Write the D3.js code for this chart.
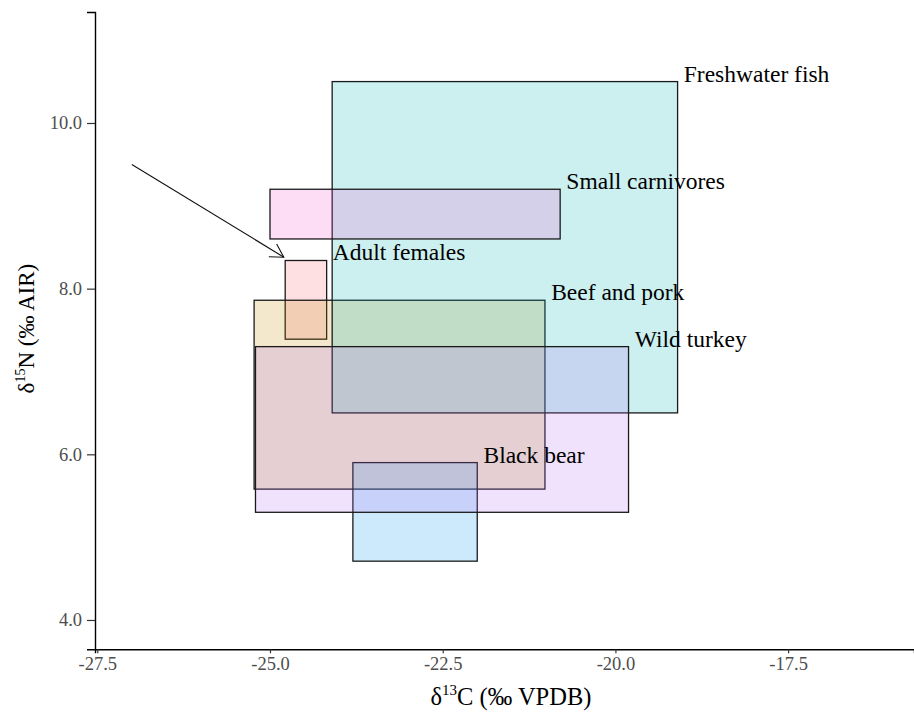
<!DOCTYPE html>
<html>
<head>
<meta charset="utf-8">
<script src="https://cdn.jsdelivr.net/npm/d3@7"></script>
<style>
  html, body { margin: 0; padding: 0; background: #fff; }
  svg { display: block; }
  text { font-family: "Liberation Serif", "Times New Roman", serif; }
</style>
</head>
<body>
<svg id="chart" width="914" height="712"></svg>
<script>
// Isotopic ranges (min/max) for each food source and for the adult females
const groups = ["Adult females", "Beef and pork", "Black bear", "Freshwater fish", "Small carnivores", "Wild turkey"];
const c13Min = [-24.78, -25.23, -23.80, -24.10, -25.00, -25.21];
const c13Max = [-24.18, -21.02, -22.00, -19.10, -20.80, -19.81];
const n15Min = [7.39, 5.58, 4.71, 6.50, 8.60, 5.30];
const n15Max = [8.34, 7.86, 5.90, 10.50, 9.20, 7.30];
const fills = ["#fa646e", "#c38c00", "#0096f0", "#00b4b4", "#f550cd", "#b46ef0"];

// Label anchors (upper right corner of each box, nudged right)
const labelNudge = 0.09;

// Arrow pointing at the adult female box
const arrowFrom = [-27.0, 9.5];
const arrowTo = [-24.8, 8.38];

const xTicks = [-27.5, -25.0, -22.5, -20.0, -17.5];
const yTicks = [4.0, 6.0, 8.0, 10.0];

const W = 914, H = 712;
const margin = { top: 12, right: 0, bottom: 62.7, left: 95 };

const svg = d3.select("#chart");

const x = d3.scaleLinear().domain([-27.533, -15.678]).range([margin.left, W - margin.right]);
const y = d3.scaleLinear().domain([3.646, 11.34]).range([H - margin.bottom, margin.top]);

const rows = groups.map((g, i) => ({
  name: g, x0: c13Min[i], x1: c13Max[i], y0: n15Min[i], y1: n15Max[i], fill: fills[i]
}));

// Boxes
svg.append("g").selectAll("rect").data(rows).join("rect")
  .attr("x", d => x(d.x0))
  .attr("y", d => y(d.y1))
  .attr("width", d => x(d.x1) - x(d.x0))
  .attr("height", d => y(d.y0) - y(d.y1))
  .attr("fill", d => d.fill)
  .attr("fill-opacity", 0.2)
  .attr("stroke", "#1a1a1a")
  .attr("stroke-width", 1.3);

// Box labels
svg.append("g").selectAll("text").data(rows).join("text")
  .attr("x", d => x(d.x1 + labelNudge))
  .attr("y", d => y(d.y1))
  .attr("font-size", 23.5)
  .attr("fill", "#000")
  .text(d => d.name);

// Arrow with open head
const ax0 = x(arrowFrom[0]), ay0 = y(arrowFrom[1]);
const ax1 = x(arrowTo[0]), ay1 = y(arrowTo[1]);
const ang = Math.atan2(ay1 - ay0, ax1 - ax0);
const headLen = 15, headAng = Math.PI / 6;
const arrow = svg.append("g").attr("stroke", "#111").attr("stroke-width", 1.1).attr("fill", "none");
arrow.append("line").attr("x1", ax0).attr("y1", ay0).attr("x2", ax1).attr("y2", ay1);
arrow.append("path").attr("d", d3.line()([
  [ax1 - headLen * Math.cos(ang - headAng), ay1 - headLen * Math.sin(ang - headAng)],
  [ax1, ay1],
  [ax1 - headLen * Math.cos(ang + headAng), ay1 - headLen * Math.sin(ang + headAng)]
]));

// Axes (plain hyphen for negative tick labels)
const fmt = d => d3.format(".1f")(d).replace("−", "-");
const xAxis = d3.axisBottom(x).tickValues(xTicks).tickFormat(fmt).tickSizeOuter(0).tickSize(4).tickPadding(4);
const yAxis = d3.axisLeft(y).tickValues(yTicks).tickFormat(fmt).tickSizeOuter(0).tickSize(8).tickPadding(5);

const gx = svg.append("g").attr("transform", `translate(0,${H - margin.bottom})`).call(xAxis);
const gy = svg.append("g").attr("transform", `translate(${margin.left},0)`).call(yAxis);

[gx, gy].forEach(g => {
  g.select(".domain").attr("stroke", "#000").attr("stroke-width", 1.4);
  g.selectAll(".tick line").attr("stroke", "#333").attr("stroke-width", 1.2);
  g.selectAll(".tick text")
    .attr("font-family", "'Liberation Serif', 'Times New Roman', serif")
    .attr("font-size", 18.5)
    .attr("fill", "#4d4d4d");
});

// Axis titles
const xTitle = svg.append("text")
  .attr("x", 511)
  .attr("y", 705)
  .attr("text-anchor", "middle")
  .attr("font-size", 24.5)
  .attr("fill", "#000");
xTitle.append("tspan").text("δ");
xTitle.append("tspan").attr("font-size", 15).attr("dy", -10).text("13");
xTitle.append("tspan").attr("dy", 10).text("C (‰ VPDB)");

const yTitle = svg.append("text")
  .attr("transform", `translate(34,${(margin.top + H - margin.bottom) / 2 - 2}) rotate(-90)`)
  .attr("text-anchor", "middle")
  .attr("font-size", 23)
  .attr("fill", "#000");
yTitle.append("tspan").text("δ");
yTitle.append("tspan").attr("font-size", 14).attr("dy", -9).text("15");
yTitle.append("tspan").attr("dy", 9).text("N (‰ AIR)");
</script>
</body>
</html>
